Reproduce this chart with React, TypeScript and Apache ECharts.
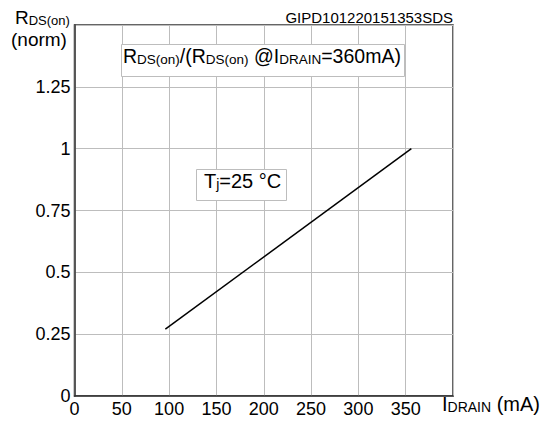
import React, { useEffect, useRef } from "react";
import * as echarts from "echarts";

const drainCurrent = [96, 356];
const rdsNorm = [0.27, 1.0];
const xTicks = [0, 50, 100, 150, 200, 250, 300, 350, 400];
const yTicks = [0, 0.25, 0.5, 0.75, 1, 1.25, 1.5];
const codeLabel = "GIPD101220151353SDS";

const FONT = "'Liberation Sans', Arial, Helvetica, sans-serif";

export default function App() {
  const ref = useRef<HTMLDivElement>(null);
  useEffect(() => {
    if (!ref.current) return;
    const chart = echarts.init(ref.current, null, { renderer: "svg" });
    const s = { fontSize: 13, fontFamily: FONT, color: "#000", verticalAlign: "bottom", lineHeight: 13 };
    const s14 = { ...s, fontSize: 14, lineHeight: 14 };
    const s135 = { ...s, fontSize: 13.5, lineHeight: 14 };
    chart.setOption({
      animation: false,
      backgroundColor: "#fff",
      textStyle: { fontFamily: FONT },
      grid: {
        left: 74.5, top: 25, width: 378.5, height: 371,
        show: true, borderColor: "#333", borderWidth: 1.5, backgroundColor: "transparent",
      },
      xAxis: {
        type: "value", min: 0, max: 400, interval: 50,
        axisLine: { show: true, lineStyle: { color: "#333", width: 1.5 } },
        axisTick: { show: false },
        splitLine: { show: true, lineStyle: { color: "#bdbdbd", width: 1 } },
        axisLabel: {
          color: "#000", fontSize: 18, fontFamily: FONT, margin: 4,
          formatter: (v: number) => (v === xTicks[xTicks.length - 1] ? "" : String(v)),
        },
      },
      yAxis: {
        type: "value", min: 0, max: 1.5, interval: 0.25,
        axisLine: { show: true, lineStyle: { color: "#333", width: 1.5 } },
        axisTick: { show: false },
        splitLine: { show: true, lineStyle: { color: "#bdbdbd", width: 1 } },
        axisLabel: {
          color: "#000", fontSize: 18, fontFamily: FONT, margin: 4,
          formatter: (v: number) => (v === yTicks[yTicks.length - 1] ? "" : String(v)),
        },
      },
      series: [
        {
          type: "line",
          data: drainCurrent.map((x, i) => [x, rdsNorm[i]]),
          showSymbol: false,
          lineStyle: { color: "#000", width: 1.5 },
          z: 5,
        },
      ],
      graphic: [
        {
          type: "text", left: 15, top: 8,
          style: {
            text: "{r|R}{s|DS(on)}",
            rich: { r: { fontSize: 19, fontFamily: FONT, color: "#000", lineHeight: 24, verticalAlign: "bottom" }, s },
          },
        },
        {
          type: "text", left: 11, top: 30,
          style: { text: "(norm)", fontSize: 19, fontFamily: FONT, fill: "#000" },
        },
        {
          type: "text", right: 91, top: 10,
          style: { text: codeLabel, fontSize: 15, fontFamily: FONT, fill: "#000" },
        },
        {
          type: "text", left: 442, top: 394,
          style: {
            text: "{r|I}{s|DRAIN}{r| (mA)}",
            rich: { r: { fontSize: 20, fontFamily: FONT, color: "#000", lineHeight: 22, verticalAlign: "bottom" }, s: s14 },
          },
        },
        {
          type: "rect", shape: { x: 121.5, y: 44.5, width: 283, height: 32 },
          style: { fill: "#fff", stroke: "#bdbdbd", lineWidth: 1 }, z: 10,
        },
        {
          type: "text", left: 123, top: 46, z: 11,
          style: {
            text: "{r|R}{s|DS(on)}{r|/(R}{s|DS(on)}{r| @I}{s|DRAIN}{r|=360mA)}",
            rich: { r: { fontSize: 19.5, fontFamily: FONT, color: "#000", lineHeight: 27, verticalAlign: "bottom" }, s: s135 },
          },
        },
        {
          type: "rect", shape: { x: 196.5, y: 169.5, width: 90, height: 31 },
          style: { fill: "#fff", stroke: "#bdbdbd", lineWidth: 1 }, z: 10,
        },
        {
          type: "text", left: 204, top: 171, z: 11,
          style: {
            text: "{r|T}{s|j}{r|=25 °C}",
            rich: { r: { fontSize: 20, fontFamily: FONT, color: "#000", lineHeight: 26, verticalAlign: "bottom" }, s: s14 },
          },
        },
      ],
    });
    return () => chart.dispose();
  }, []);
  return (
    <div
      ref={ref}
      style={{ position: "fixed", left: 0, top: 0, width: 544, height: 421, background: "#fff" }}
    />
  );
}
